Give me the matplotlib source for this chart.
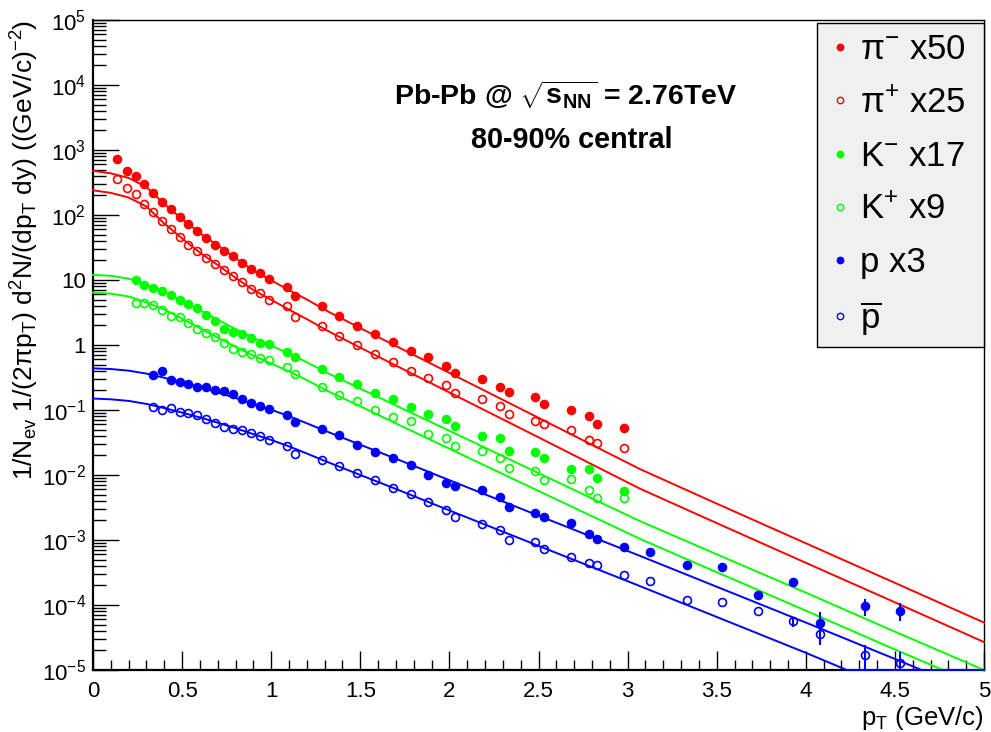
import matplotlib
matplotlib.use('Agg')
import matplotlib.pyplot as plt
import numpy as np
from matplotlib.ticker import MultipleLocator, LogLocator, FuncFormatter, NullFormatter
from matplotlib.lines import Line2D

plt.rcParams['font.family'] = ['Liberation Sans', 'DejaVu Sans']
plt.rcParams['mathtext.fontset'] = 'custom'
plt.rcParams['mathtext.rm'] = 'Liberation Sans'
plt.rcParams['mathtext.it'] = 'Liberation Sans:italic'
plt.rcParams['mathtext.bf'] = 'Liberation Sans:bold'

# ---------------- data ----------------
pi_pt = [0.136, 0.189, 0.240, 0.288, 0.338, 0.387, 0.436, 0.487, 0.535, 0.585,
         0.636, 0.686, 0.737, 0.787, 0.838, 0.887, 0.937, 0.988, 1.087, 1.135,
         1.285, 1.380, 1.483, 1.584, 1.683, 1.783, 1.882, 1.983, 2.033, 2.183,
         2.282, 2.333, 2.482, 2.533, 2.681, 2.782, 2.830, 2.980]
pim_y = [728, 481, 398, 297, 216, 160, 122, 92, 72, 56,
         44, 35, 28, 23.4, 18.4, 14.8, 12.7, 10.5, 7.9, 5.7,
         3.98, 2.79, 1.98, 1.49, 1.11, 0.818, 0.646, 0.475, 0.371, 0.297,
         0.226, 0.187, 0.157, 0.125, 0.101, 0.0817, 0.061, 0.0523]
pip_y = [358, 258, 208, 146, 110, 81.7, 60.3, 45.9, 34.9, 27.7,
         22.0, 17.5, 14.3, 11.4, 9.2, 7.3, 6.2, 4.9, 3.94, 2.72,
         1.96, 1.38, 1.0, 0.727, 0.553, 0.398, 0.314, 0.243, 0.185, 0.146,
         0.116, 0.0877, 0.0684, 0.061, 0.0493, 0.0345, 0.0314, 0.0257]

k_pt = [0.240, 0.288, 0.338, 0.387, 0.436, 0.487, 0.535, 0.585, 0.636, 0.686,
        0.737, 0.787, 0.838, 0.887, 0.937, 0.988, 1.087, 1.135, 1.285, 1.380,
        1.483, 1.584, 1.683, 1.783, 1.882, 1.983, 2.033, 2.183, 2.282, 2.333,
        2.482, 2.533, 2.681, 2.782, 2.830, 2.980]
km_y = [10.0, 8.47, 7.62, 6.78, 5.88, 4.87, 4.32, 3.71, 2.90, 2.34,
        1.76, 1.60, 1.46, 1.27, 1.06, 1.04, 0.77, 0.646, 0.432, 0.318,
        0.251, 0.181, 0.146, 0.111, 0.0877, 0.072, 0.0567, 0.0398, 0.0367, 0.0237,
        0.0223, 0.0181, 0.0125, 0.0125, 0.0090, 0.00574]
kp_y = [4.48, 4.38, 4.08, 3.42, 2.82, 2.67, 2.18, 1.76, 1.51, 1.31,
        1.08, 0.868, 0.789, 0.735, 0.624, 0.582, 0.464, 0.354, 0.223, 0.172,
        0.139, 0.0989, 0.0789, 0.067, 0.0432, 0.0371, 0.0282, 0.0237, 0.0181, 0.0128,
        0.0116, 0.00838, 0.00859, 0.00588, 0.00443, 0.00443]

p_pt = [0.338, 0.387, 0.436, 0.487, 0.535, 0.585, 0.636, 0.686, 0.737, 0.787,
        0.838, 0.887, 0.937, 0.988, 1.087, 1.135, 1.285, 1.380, 1.483, 1.584,
        1.683, 1.783, 1.882, 1.983, 2.033, 2.183, 2.282, 2.333, 2.482, 2.533,
        2.681, 2.782, 2.830, 2.980, 3.127, 3.332, 3.532, 3.730, 3.930, 4.080,
        4.330, 4.530]
p_y = [0.345, 0.403, 0.29, 0.27, 0.251, 0.226, 0.223, 0.205, 0.194, 0.176,
       0.146, 0.129, 0.115, 0.104, 0.0828, 0.066, 0.0515, 0.0417, 0.0286, 0.0229,
       0.0183, 0.0143, 0.0100, 0.00762, 0.0067, 0.00588, 0.00454, 0.00318, 0.00263, 0.00223,
       0.00183, 0.00124, 0.00104, 0.000789, 0.000647, 0.000407, 0.00038, 0.000143, 0.000226, 5.2e-5,
       9.5e-5, 8.1e-5]
pbar_y = [0.111, 0.100, 0.106, 0.094, 0.0889, 0.0838, 0.0727, 0.0624, 0.0553, 0.0504,
          0.0493, 0.0438, 0.0398, 0.0342, 0.0279, 0.0208, 0.0172, 0.0138, 0.0106, 0.00838,
          0.00624, 0.00516, 0.00385, 0.0029, 0.00229, 0.00178, 0.00141, 0.000989, 0.00092, 0.000727,
          0.000541, 0.000443, 0.000408, 0.000292, 0.000234, 0.000119, 0.000111, 8.2e-5, 5.6e-5, 3.6e-5,
          1.7e-5, 1.27e-5]
# errors on the last 8 (high-pT) proton points
p_err_hi = [0, 0, 0, 2.3e-5, 3.5e-5, 2.5e-5, 2.7e-5, 2.5e-5]
pbar_err_hi = [0, 0, 0, 0, 1.0e-5, 1.2e-5, 7e-6, 6.5e-6]

# fit curves (flat part = drawn along the axis floor)
fit_pt = [0, 0.1, 0.2, 0.3, 0.4, 0.5, 0.6, 0.7, 0.8, 0.9, 1.0, 1.1, 1.2, 1.33,
          1.5, 1.7, 2.0, 2.5, 3.07, 3.5, 4.0, 4.5, 5.0]
fit_pim = [479, 437, 372, 269, 148, 87.1, 52.5, 33.9, 21.6, 14.0, 9.89, 7.00, 5.01, 3.16,
           1.82, 0.966, 0.372, 0.0759, 0.0123, 0.00363, 0.000891, 0.000219, 5.37e-5]
fit_pip = [240, 219, 186, 135, 74, 43.6, 26.3, 17.0, 10.8, 7.0, 4.95, 3.5, 2.5, 1.58,
           0.91, 0.483, 0.186, 0.038, 0.00615, 0.00182, 0.000446, 0.00011, 2.69e-5]
fit_km = [12.0, 11.6, 10.5, 8.51, 6.61, 4.79, 3.43, 2.45, 1.76, 1.29, 0.977, 0.741, 0.543, 0.355,
          0.214, 0.117, 0.0479, 0.0107, 0.00195, 0.000603, 0.000155, 3.89e-5, 1.0e-5]
fit_kp_pt = fit_pt[:-1] + [4.77, 5.0]
fit_kp = [6.4, 6.16, 5.58, 4.52, 3.51, 2.54, 1.82, 1.30, 0.935, 0.685, 0.519, 0.393, 0.288, 0.188,
          0.114, 0.0621, 0.0254, 0.00568, 0.00104, 0.00032, 8.2e-5, 2.07e-5, 1.0e-5, 1.0e-5]
fit_p_pt = fit_pt[:-1] + [4.65, 5.0]
fit_p = [0.437, 0.427, 0.403, 0.363, 0.313, 0.266, 0.224, 0.186, 0.153, 0.124, 0.101, 0.0804,
         0.0624, 0.0447, 0.0292, 0.0178, 0.00832, 0.00237, 0.000569, 0.000191, 5.37e-5, 1.48e-5,
         1.0e-5, 1.0e-5]
fit_pbar_pt = fit_pt[:-3] + [4.0, 4.23, 5.0]
fit_pbar = [0.150, 0.146, 0.138, 0.124, 0.107, 0.0912, 0.0768, 0.0638, 0.0525, 0.0425, 0.0346,
            0.0276, 0.0214, 0.0153, 0.0100, 0.0061, 0.00285, 0.000813, 0.000195, 6.55e-5,
            1.84e-5, 1.0e-5, 1.0e-5]

labels = [r'π$^{-}$ x50', r'π$^{+}$ x25', r'K$^{-}$ x17', r'K$^{+}$ x9', 'p x3',
          r'$\overline{\mathrm{p}}$']

RED, GREEN, BLUE = '#ff0000', '#00ff00', '#0000ff'

# ---------------- figure ----------------
fig = plt.figure(figsize=(9.91, 7.32), dpi=100)
fig.patch.set_facecolor('white')
ax = fig.add_axes([93/991, 62/732, 891/991, 650/732])
ax.set_yscale('log')
ax.set_xlim(0, 5)
ax.set_ylim(1e-5, 1e5)

# fit curves
for xs, ys, c in [(fit_pt, fit_pim, RED), (fit_pt, fit_pip, RED),
                  (fit_pt, fit_km, GREEN), (fit_kp_pt, fit_kp, GREEN),
                  (fit_p_pt, fit_p, BLUE), (fit_pbar_pt, fit_pbar, BLUE)]:
    ax.plot(xs, ys, color=c, lw=1.4, zorder=3, clip_on=False)

p_err = np.concatenate([np.zeros(len(p_y) - len(p_err_hi)), p_err_hi])
pbar_err = np.concatenate([np.zeros(len(pbar_y) - len(pbar_err_hi)), pbar_err_hi])

series = [(pi_pt, pim_y, None, RED, True), (pi_pt, pip_y, None, RED, False),
          (k_pt, km_y, None, GREEN, True), (k_pt, kp_y, None, GREEN, False),
          (p_pt, p_y, p_err, BLUE, True), (p_pt, pbar_y, pbar_err, BLUE, False)]
handles = []
for (xs, ys, err, c, filled), lab in zip(series, labels):
    ax.errorbar(xs, ys, yerr=err, fmt='o', ms=5.7, mfc=c if filled else 'none',
                mec=c, mew=1.2, ecolor=c, elinewidth=1.5, capsize=0, zorder=4)
    handles.append(Line2D([], [], ls='none', marker='o', ms=4.6,
                          mfc=c if filled else 'none', mec=c, mew=1.0))

# axes styling (ROOT-like)
for s in ['left', 'bottom']:
    ax.spines[s].set_linewidth(1.6)
for s in ['top', 'right']:
    ax.spines[s].set_linewidth(1.0)

ax.xaxis.set_major_locator(MultipleLocator(0.5))
ax.xaxis.set_minor_locator(MultipleLocator(0.1))
ax.xaxis.set_major_formatter(FuncFormatter(lambda v, p: ('%g' % v)))
ax.yaxis.set_major_locator(LogLocator(base=10, numticks=20))
ax.yaxis.set_minor_locator(LogLocator(base=10, subs=np.arange(2, 10), numticks=200))
ax.yaxis.set_minor_formatter(NullFormatter())

def yfmt(v, p):
    e = int(round(np.log10(v)))
    if e == 0:
        return '1'
    if e == 1:
        return '10'
    return r'$10^{%d}$' % e
ax.yaxis.set_major_formatter(FuncFormatter(yfmt))
ax.xaxis.offsetText.set_visible(False)
ax.yaxis.offsetText.set_visible(False)

ax.tick_params(axis='x', which='major', direction='in', length=14, width=1.0,
               labelsize=16, pad=8, top=False)
ax.tick_params(axis='x', which='minor', direction='in', length=7, width=1.0, top=False)
ax.tick_params(axis='y', which='major', direction='in', length=19, width=1.0,
               labelsize=16, pad=5, right=False)
ax.tick_params(axis='y', which='minor', direction='in', length=9.6, width=1.0, right=False)

ax.set_xlabel(r'p$_{\mathrm{T}}$ (GeV/c)', fontsize=18.5, loc='right')
ax.xaxis.set_label_coords(1.0, -0.052)
ax.set_ylabel(r'1/N$_{\mathrm{ev}}$ 1/(2πp$_{\mathrm{T}}$) d$^{2}$N/(dp$_{\mathrm{T}}$ dy) ((GeV/c)$^{-2}$)',
              fontsize=19, loc='top')
ax.yaxis.set_label_coords(-0.058, 1.0)

fig.text(566/991, 1 - 95/732, r'Pb-Pb @ $\mathbf{\sqrt{s_{NN}}}$ = 2.76TeV',
         ha='center', va='center', fontsize=20.5, fontweight='bold')
fig.text(572/991, 1 - 140/732, '80-90% central', ha='center', va='center',
         fontsize=20.7, fontweight='bold')

leg = fig.legend(handles, labels, loc='upper left',
                 bbox_to_anchor=(817/991, 1 - 347/732, 167/991, 324/732), mode='expand',
                 fontsize=25, frameon=True, fancybox=False, edgecolor='black',
                 facecolor='#f0f0f0', framealpha=1, borderaxespad=0, borderpad=0.3,
                 handlelength=0.75, handletextpad=0.18, labelspacing=0.58)
leg.get_frame().set_linewidth(1.0)

fig.savefig('out.png', dpi=100)
